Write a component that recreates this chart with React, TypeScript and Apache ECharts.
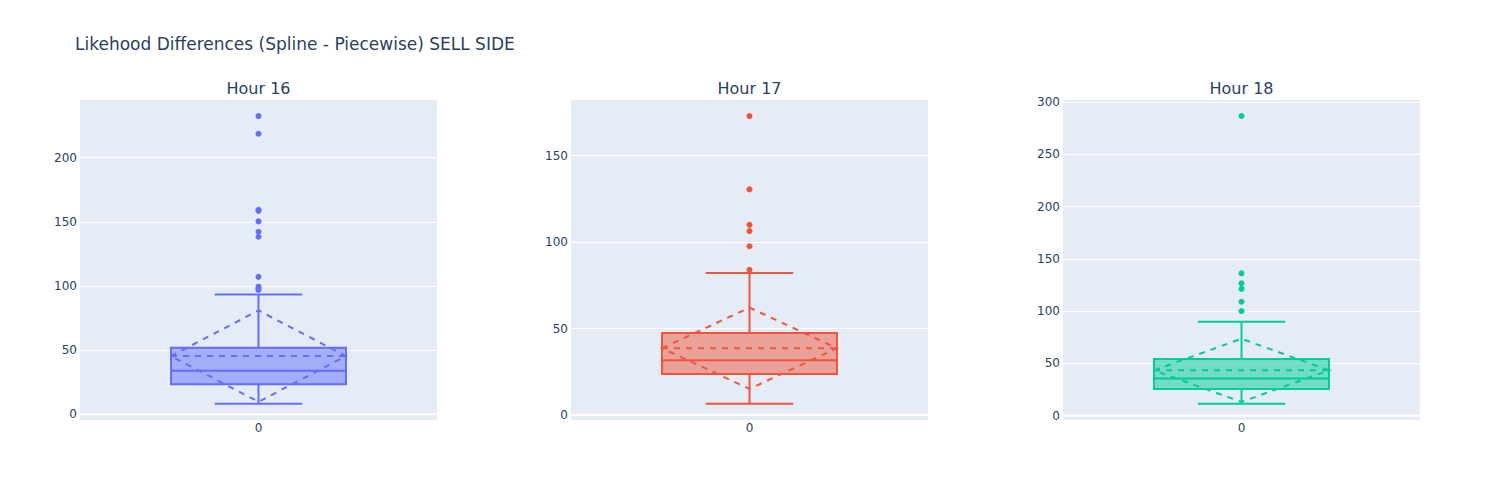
import React, { useEffect, useRef } from "react";
import * as echarts from "echarts";

// ---- data ----
const chartTitle = "Likehood Differences (Spline - Piecewise) SELL SIDE";
const hours = ["Hour 16", "Hour 17", "Hour 18"];
const categories = ["0"];
const colors = ["#636efa", "#EF553B", "#00cc96"];
const fills = ["rgba(99,110,250,0.5)", "rgba(239,85,59,0.5)", "rgba(0,204,150,0.5)"];

const lowerFence = [8.3, 6.5, 11.5];
const q1 = [23.4, 23.7, 25.5];
const median = [34.0, 31.6, 35.7];
const q3 = [51.9, 47.4, 54.2];
const upperFence = [93.4, 82.1, 89.9];
const mean = [45.4, 38.6, 43.4];
const sd = [35.6, 23.5, 30.2];

const outliers16 = [232.5, 218.7, 159.4, 158.6, 150.4, 142.3, 138.4, 107.2, 99.5, 98.0, 96.9];
const outliers17 = [172.9, 130.5, 110.0, 106.4, 97.6, 84.0];
const outliers18 = [286.6, 136.2, 126.6, 121.2, 109.0, 100.1];
const outliers = [outliers16, outliers17, outliers18];

const yMin = [-4.4, -2.9, -4.1];
const yMax = [245.0, 182.2, 301.9];
const ySplit = [5, 4, 6];

// ---- layout ----
const gridLefts = [80, 571, 1063];
const gridWidth = 357;
const gridTop = 100;
const gridHeight = 320;
const textColor = "#2a3f5f";
const fontFamily = '"DejaVu Sans", verdana, sans-serif';

export default function App() {
  const ref = useRef<HTMLDivElement>(null);

  useEffect(() => {
    if (!ref.current) return;
    const chart = echarts.init(ref.current, null, { renderer: "svg" });

    const grids = hours.map((_, i) => ({
      left: gridLefts[i],
      top: gridTop,
      width: gridWidth,
      height: gridHeight,
      show: true,
      backgroundColor: "#E5ECF6",
      borderWidth: 0,
      containLabel: false,
    }));

    const xAxes = hours.map((_, i) => ({
      type: "category",
      gridIndex: i,
      data: categories,
      boundaryGap: true,
      axisLine: { show: false },
      axisTick: { show: false },
      splitLine: { show: false },
      axisLabel: { color: textColor, fontSize: 12, margin: 2, fontFamily },
    }));

    const yAxes = hours.map((_, i) => ({
      type: "value",
      gridIndex: i,
      min: yMin[i],
      max: yMax[i],
      splitNumber: ySplit[i],
      axisLine: { show: false },
      axisTick: { show: false },
      axisLabel: {
        color: textColor,
        fontSize: 12,
        margin: 3,
        fontFamily,
        showMinLabel: false,
        showMaxLabel: false,
      },
      splitLine: {
        show: true,
        showMinLine: false,
        showMaxLine: false,
        lineStyle: { color: "#ffffff", width: 1 },
      },
    }));

    const boxSeries = hours.map((h, i) => ({
      type: "custom",
      name: h,
      xAxisIndex: i,
      yAxisIndex: i,
      clip: false,
      data: [[0, lowerFence[i], q1[i], median[i], q3[i], upperFence[i], mean[i], sd[i]]],
      renderItem: (params: any, api: any) => {
        const cs = params.coordSys;
        const cx = api.coord([api.value(0), 0])[0];
        const band = api.size([1, 0])[0];
        const hw = band * 0.245;
        const cw = band * 0.1225;
        const Y = (v: number) => api.coord([api.value(0), v])[1];
        const lo = api.value(1), a = api.value(2), m = api.value(3), b = api.value(4), hi = api.value(5);
        const mu = api.value(6), s = api.value(7);
        const col = colors[i];
        const solid = { stroke: col, lineWidth: 2, fill: null };
        const dashed = { stroke: col, lineWidth: 2, fill: null, lineDash: [6, 6] };
        return {
          type: "group",
          children: [
            {
              type: "line",
              shape: { x1: cs.x, y1: Y(0), x2: cs.x + cs.width, y2: Y(0) },
              style: { stroke: "#ffffff", lineWidth: 2 },
            },
            {
              type: "rect",
              shape: { x: cx - hw, y: Y(b), width: 2 * hw, height: Y(a) - Y(b) },
              style: { fill: fills[i], stroke: col, lineWidth: 2 },
            },
            { type: "line", shape: { x1: cx - hw, y1: Y(m), x2: cx + hw, y2: Y(m) }, style: solid },
            { type: "line", shape: { x1: cx, y1: Y(b), x2: cx, y2: Y(hi) }, style: solid },
            { type: "line", shape: { x1: cx, y1: Y(a), x2: cx, y2: Y(lo) }, style: solid },
            { type: "line", shape: { x1: cx - cw, y1: Y(hi), x2: cx + cw, y2: Y(hi) }, style: solid },
            { type: "line", shape: { x1: cx - cw, y1: Y(lo), x2: cx + cw, y2: Y(lo) }, style: solid },
            { type: "line", shape: { x1: cx - hw, y1: Y(mu), x2: cx + hw, y2: Y(mu) }, style: dashed },
            {
              type: "polygon",
              shape: {
                points: [
                  [cx - hw, Y(mu)],
                  [cx, Y(mu + s)],
                  [cx + hw, Y(mu)],
                  [cx, Y(mu - s)],
                ],
              },
              style: dashed,
            },
          ],
        };
      },
    }));

    const pointSeries = hours.map((h, i) => ({
      type: "scatter",
      name: h + " outliers",
      xAxisIndex: i,
      yAxisIndex: i,
      symbol: "circle",
      symbolSize: 6,
      itemStyle: { color: colors[i], opacity: 1 },
      data: outliers[i].map((v) => [0, v]),
    }));

    const subTitles = hours.map((h, i) => ({
      type: "text",
      x: gridLefts[i] + gridWidth / 2,
      y: 88,
      style: {
        text: h,
        align: "center",
        verticalAlign: "middle",
        fontSize: 16,
        fontFamily,
        fill: textColor,
      },
    }));

    chart.setOption({
      animation: false,
      textStyle: { fontFamily },
      title: {
        text: chartTitle,
        left: 75,
        top: 35,
        padding: 0,
        textStyle: { fontSize: 17, fontWeight: "normal", color: textColor, fontFamily },
      },
      grid: grids,
      xAxis: xAxes,
      yAxis: yAxes,
      graphic: subTitles,
      series: [...boxSeries, ...pointSeries],
    });

    return () => chart.dispose();
  }, []);

  return (
    <div
      ref={ref}
      style={{ position: "absolute", left: 0, top: 0, width: 1500, height: 500, background: "#ffffff" }}
    />
  );
}
